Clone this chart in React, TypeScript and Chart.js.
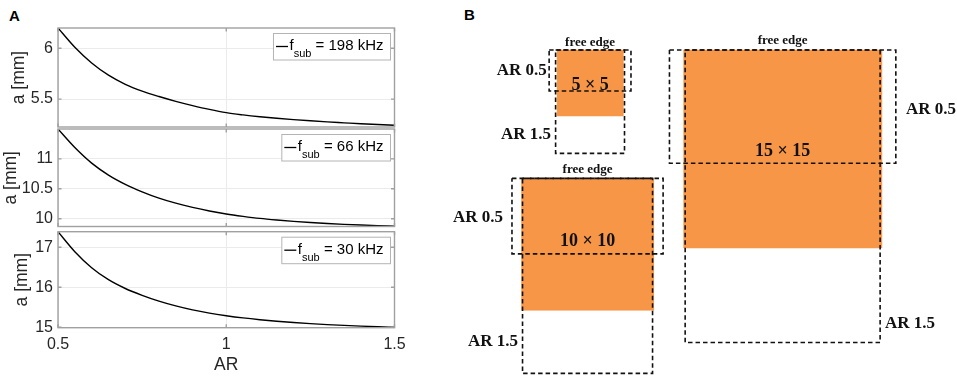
import React, { useEffect, useRef } from "react";
import { Chart, registerables } from "chart.js";
Chart.register(...registerables);

// ---------- Panel A data ----------
const arValues = [0.5, 0.55, 0.6, 0.65, 0.7, 0.75, 0.8, 0.85, 0.9, 0.95, 1.0, 1.05, 1.1, 1.15, 1.2, 1.25, 1.3, 1.35, 1.4, 1.45, 1.5];
const a198 = [6.2, 6.01, 5.855, 5.735, 5.645, 5.578, 5.525, 5.478, 5.436, 5.398, 5.366, 5.344, 5.326, 5.311, 5.298, 5.286, 5.275, 5.266, 5.257, 5.249, 5.242];
const a66 = [11.5, 11.19, 10.93, 10.73, 10.575, 10.45, 10.345, 10.26, 10.19, 10.13, 10.08, 10.04, 10.005, 9.978, 9.955, 9.936, 9.92, 9.906, 9.894, 9.884, 9.875];
const a30 = [17.39, 16.89, 16.49, 16.19, 15.97, 15.8, 15.655, 15.535, 15.435, 15.355, 15.29, 15.235, 15.19, 15.152, 15.12, 15.092, 15.068, 15.047, 15.029, 15.013, 15.0];
const xTicks = [0.5, 1, 1.5];
const yTicks198 = [5.5, 6];
const yTicks66 = [10, 10.5, 11];
const yTicks30 = [15, 16, 17];
const yRange198 = [5.225, 6.2];
const yRange66 = [9.87, 11.5];
const yRange30 = [14.99, 17.39];
const legendFreqs = ["198 kHz", "66 kHz", "30 kHz"];

// ---------- Panel B data (mm) ----------
const plateSides = [5, 10, 15];
const aspectRatios = [0.5, 1.5];
const widthsAR05 = [6.2, 11.45, 17.15];
const widthsAR15 = [5.22, 9.85, 14.77];

// ---------- layout / style ----------
const SANS = '"Liberation Sans", Arial, Helvetica, sans-serif';
const SERIF = '"Liberation Serif", "Times New Roman", serif';
const TEXT = "#262626";
const FRAME = "#a0a0a0";
const GRID = "#ebebeb";
const ORANGE = "#F79646";
const PX_PER_MM = 13.2;
const A_W = 420;
const A_RIGHT_PAD = A_W - 394.5;
const B_W = 507;
const B_H = 379;

const panelBLayout = [
  { cx: 10.61, top: 3.79, freeEdgeY: 3.23, sizeLabelY: 6.44, ar05: { x: 7.33, y: 5.36, align: "right" }, ar15: { x: 7.65, y: 10.23, align: "right" } },
  { cx: 10.42, top: 13.51, freeEdgeY: 12.88, sizeLabelY: 18.26, ar05: { x: 4.02, y: 16.52, align: "right" }, ar15: { x: 5.15, y: 25.89, align: "right" } },
  { cx: 25.2, top: 3.79, freeEdgeY: 3.08, sizeLabelY: 11.44, ar05: { x: 34.55, y: 8.33, align: "left" }, ar15: { x: 32.95, y: 24.49, align: "left" } },
];

const framePlugin = {
  id: "frame",
  afterDatasetsDraw(chart: any) {
    const { ctx, chartArea: ca, scales } = chart;
    ctx.save();
    ctx.strokeStyle = FRAME;
    ctx.lineWidth = 1.4;
    ctx.strokeRect(ca.left, ca.top, ca.right - ca.left, ca.bottom - ca.top);
    const tl = 3.5;
    ctx.beginPath();
    scales.y.ticks.forEach((t: any) => {
      const py = scales.y.getPixelForValue(t.value);
      ctx.moveTo(ca.left, py); ctx.lineTo(ca.left + tl, py);
      ctx.moveTo(ca.right, py); ctx.lineTo(ca.right - tl, py);
    });
    scales.x.ticks.forEach((t: any) => {
      const px = scales.x.getPixelForValue(t.value);
      ctx.moveTo(px, ca.top); ctx.lineTo(px, ca.top + tl);
      ctx.moveTo(px, ca.bottom); ctx.lineTo(px, ca.bottom - tl);
    });
    ctx.stroke();
    ctx.restore();
  },
};

const fsubLegendPlugin = {
  id: "fsubLegend",
  afterDraw(chart: any, _args: any, opts: any) {
    const { ctx, chartArea: ca } = chart;
    const mainFont = `15px ${SANS}`;
    const subFont = `11px ${SANS}`;
    ctx.save();
    ctx.font = mainFont;
    const fW = ctx.measureText("f").width;
    const restText = " = " + opts.freq;
    const restW = ctx.measureText(restText).width;
    ctx.font = subFont;
    const subW = ctx.measureText("sub").width;
    const w = 3 + 12 + 4 + fW + subW + restW + 4;
    const h = 26.5;
    const right = ca.right - 4.5;
    const left = right - w;
    const top = ca.top + 5;
    ctx.fillStyle = "#fff";
    ctx.fillRect(left, top, w, h);
    ctx.strokeStyle = "#b4b4b4";
    ctx.lineWidth = 1;
    ctx.strokeRect(left + 0.5, top + 0.5, w, h);
    ctx.strokeStyle = "#000";
    ctx.lineWidth = 1.3;
    ctx.beginPath();
    ctx.moveTo(left + 3, top + 13.5);
    ctx.lineTo(left + 15, top + 13.5);
    ctx.stroke();
    ctx.fillStyle = "#000";
    ctx.textBaseline = "alphabetic";
    ctx.textAlign = "left";
    let x = left + 16.5;
    ctx.font = mainFont;
    ctx.fillText("f", x, top + 17);
    x += fW;
    ctx.font = subFont;
    ctx.fillText("sub", x, top + 24);
    x += subW;
    ctx.font = mainFont;
    ctx.fillText(restText, x, top + 17);
    ctx.restore();
  },
};

const plainNumber = (v: any) => String(Number(v));

function makePanelA(canvas: HTMLCanvasElement, values: number[], yRange: number[], yTicks: number[], freq: string, showX: boolean, padTop: number, padBottom: number, titlePad: number) {
  return new Chart(canvas, {
    type: "line",
    data: {
      datasets: [
        {
          data: arValues.map((x, i) => ({ x, y: values[i] })),
          borderColor: "#000",
          borderWidth: 1.4,
          pointRadius: 0,
          cubicInterpolationMode: "monotone",
          fill: false,
        },
      ],
    },
    options: {
      animation: false,
      responsive: false,
      layout: { padding: { top: padTop, right: A_RIGHT_PAD, bottom: padBottom, left: 0 } },
      plugins: {
        legend: { display: false },
        tooltip: { enabled: false },
        fsubLegend: { freq },
      } as any,
      scales: {
        x: {
          type: "linear",
          min: 0.5,
          max: 1.5,
          afterBuildTicks: (s: any) => { s.ticks = xTicks.map((v) => ({ value: v })); },
          afterFit: (s: any) => { s.height = showX ? 48 : 0; s.paddingLeft = 0; s.paddingRight = 0; },
          ticks: { display: showX, font: { family: SANS, size: 16 }, color: TEXT, padding: 7, maxRotation: 0, callback: plainNumber },
          grid: { color: GRID, drawTicks: false, lineWidth: 1 },
          border: { display: false },
          title: { display: showX, text: "AR", font: { family: SANS, size: 17.5 }, color: TEXT, padding: { top: 0, bottom: 0 } },
        },
        y: {
          type: "linear",
          min: yRange[0],
          max: yRange[1],
          afterBuildTicks: (s: any) => { s.ticks = yTicks.map((v) => ({ value: v })); },
          afterFit: (s: any) => { s.width = 58; s.paddingTop = 0; s.paddingBottom = 0; },
          ticks: { font: { family: SANS, size: 16 }, color: TEXT, padding: 5, callback: plainNumber },
          grid: { color: GRID, drawTicks: false, lineWidth: 1 },
          border: { display: false },
          title: { display: true, text: "a [mm]", font: { family: SANS, size: 17.5 }, color: TEXT, padding: { top: titlePad, bottom: 0 } },
        },
      } as any,
    } as any,
    plugins: [framePlugin, fsubLegendPlugin] as any,
  });
}

function rectPoints(cx: number, top: number, w: number, h: number) {
  return [
    { x: cx - w / 2, y: top },
    { x: cx + w / 2, y: top },
    { x: cx + w / 2, y: top + h },
    { x: cx - w / 2, y: top + h },
    { x: cx - w / 2, y: top },
  ];
}

const panelBTextPlugin = {
  id: "panelBText",
  afterDatasetsDraw(chart: any) {
    const { ctx, scales } = chart;
    const X = (v: number) => scales.x.getPixelForValue(v);
    const Y = (v: number) => scales.y.getPixelForValue(v);
    ctx.save();
    ctx.fillStyle = "#111";
    ctx.textBaseline = "middle";
    panelBLayout.forEach((g, i) => {
      ctx.textAlign = "center";
      ctx.font = `bold 13px ${SERIF}`;
      ctx.fillText("free edge", X(g.cx), Y(g.freeEdgeY));
      ctx.font = `bold 18px ${SERIF}`;
      ctx.fillText(`${plateSides[i]} \u00d7 ${plateSides[i]}`, X(g.cx), Y(g.sizeLabelY));
      ctx.font = `bold 17px ${SERIF}`;
      ctx.textAlign = g.ar05.align;
      ctx.fillText(`AR ${aspectRatios[0]}`, X(g.ar05.x), Y(g.ar05.y));
      ctx.textAlign = g.ar15.align;
      ctx.fillText(`AR ${aspectRatios[1]}`, X(g.ar15.x), Y(g.ar15.y));
    });
    ctx.restore();
  },
};

function makePanelB(canvas: HTMLCanvasElement) {
  const datasets: any[] = [];
  panelBLayout.forEach((g, i) => {
    const widths = [widthsAR05[i], widthsAR15[i]];
    aspectRatios.forEach((ar, k) => {
      datasets.push({
        data: rectPoints(g.cx, g.top, widths[k], widths[k] * ar),
        borderColor: "#111",
        borderWidth: 1.6,
        borderDash: [4.5, 3],
        borderJoinStyle: "miter",
        pointRadius: 0,
        fill: false,
        tension: 0,
        order: 0,
      });
    });
    datasets.push({
      data: rectPoints(g.cx, g.top, plateSides[i], plateSides[i]),
      borderColor: ORANGE,
      backgroundColor: ORANGE,
      borderWidth: 0.5,
      pointRadius: 0,
      fill: "shape",
      tension: 0,
      order: 1,
    });
  });
  return new Chart(canvas, {
    type: "line",
    data: { datasets },
    options: {
      animation: false,
      responsive: false,
      layout: { padding: 0 },
      plugins: { legend: { display: false }, tooltip: { enabled: false } },
      scales: {
        x: { type: "linear", display: false, min: 0, max: B_W / PX_PER_MM },
        y: { type: "linear", display: false, reverse: true, min: 0, max: B_H / PX_PER_MM },
      },
    } as any,
    plugins: [panelBTextPlugin] as any,
  });
}

export default function App() {
  const c1 = useRef<HTMLCanvasElement>(null);
  const c2 = useRef<HTMLCanvasElement>(null);
  const c3 = useRef<HTMLCanvasElement>(null);
  const cb = useRef<HTMLCanvasElement>(null);

  useEffect(() => {
    const charts = [
      makePanelA(c1.current!, a198, yRange198, yTicks198, legendFreqs[0], false, 6, 5, 8.5),
      makePanelA(c2.current!, a66, yRange66, yTicks66, legendFreqs[1], false, 6, 5.5, 0.5),
      makePanelA(c3.current!, a30, yRange30, yTicks30, legendFreqs[2], true, 6.7, 3.3, 12),
      makePanelB(cb.current!),
    ];
    return () => charts.forEach((c) => c.destroy());
  }, []);

  const abs = (left: number, top: number, w: number, h: number): React.CSSProperties => ({
    position: "absolute", left, top, width: w, height: h, display: "block",
  });
  const panelLabel: React.CSSProperties = {
    position: "absolute", font: `bold 15px ${SANS}`, lineHeight: "18px", color: "#000", margin: 0,
  };

  return (
    <div style={{ position: "absolute", left: 0, top: 0, width: 957, height: 379, background: "#fff", overflow: "hidden" }}>
      <div style={{ ...panelLabel, left: 9, top: 6.5 }}>A</div>
      <div style={{ ...panelLabel, left: 464, top: 6 }}>B</div>
      <canvas ref={c1} width={A_W} height={110} style={abs(0, 22, A_W, 110)} />
      <canvas ref={c2} width={A_W} height={109} style={abs(0, 123, A_W, 109)} />
      <canvas ref={c3} width={A_W} height={154} style={abs(0, 225, A_W, 154)} />
      <canvas ref={cb} width={B_W} height={B_H} style={abs(450, 0, B_W, B_H)} />
    </div>
  );
}
